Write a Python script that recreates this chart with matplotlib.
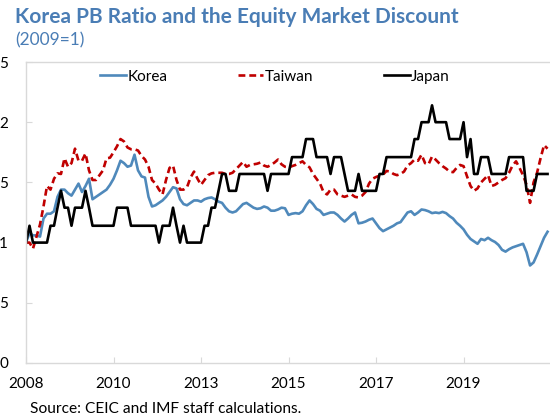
import matplotlib

matplotlib.use("Agg")

import matplotlib.pyplot as plt
import numpy as np

# monthly observations, 2009 = 1
KOREA = [
    1.00, 1.08, 1.06, 1.06, 1.05, 1.20, 1.24, 1.24, 1.26, 1.38,
    1.44, 1.44, 1.41, 1.39, 1.44, 1.49, 1.42, 1.47, 1.53, 1.36,
    1.38, 1.40, 1.42, 1.44, 1.48, 1.53, 1.60, 1.68, 1.66, 1.63,
    1.64, 1.73, 1.60, 1.55, 1.54, 1.38, 1.30, 1.31, 1.33, 1.35,
    1.38, 1.42, 1.46, 1.45, 1.36, 1.32, 1.31, 1.33, 1.35, 1.35,
    1.34, 1.36, 1.37, 1.375, 1.36, 1.34, 1.33, 1.29, 1.26, 1.25,
    1.26, 1.29, 1.32, 1.33, 1.31, 1.29, 1.28, 1.285, 1.30, 1.29,
    1.265, 1.265, 1.275, 1.29, 1.285, 1.23, 1.24, 1.245, 1.24, 1.26,
    1.31, 1.35, 1.32, 1.28, 1.265, 1.23, 1.24, 1.25, 1.25, 1.23,
    1.20, 1.175, 1.20, 1.23, 1.25, 1.16, 1.165, 1.175, 1.19, 1.20,
    1.16, 1.12, 1.095, 1.11, 1.125, 1.14, 1.16, 1.17, 1.21, 1.25,
    1.26, 1.23, 1.25, 1.275, 1.27, 1.26, 1.245, 1.25, 1.245, 1.255,
    1.245, 1.22, 1.20, 1.165, 1.14, 1.11, 1.065, 1.03, 1.01, 0.99,
    1.03, 1.02, 1.04, 1.02, 1.005, 0.98, 0.94, 0.925, 0.945, 0.96,
    0.97, 0.98, 0.99, 0.92, 0.81, 0.835, 0.90, 0.97, 1.04, 1.09,
]
TAIWAN = [
    1.00, 1.00, 0.95, 1.05, 1.15, 1.30, 1.47, 1.44, 1.53, 1.575,
    1.57, 1.70, 1.63, 1.66, 1.78, 1.68, 1.68, 1.74, 1.60, 1.52,
    1.52, 1.56, 1.60, 1.70, 1.705, 1.75, 1.80, 1.86, 1.84, 1.79,
    1.775, 1.775, 1.765, 1.72, 1.69, 1.63, 1.52, 1.49, 1.44, 1.40,
    1.52, 1.62, 1.64, 1.52, 1.44, 1.44, 1.46, 1.54, 1.59, 1.53,
    1.48, 1.52, 1.56, 1.575, 1.58, 1.58, 1.58, 1.57, 1.57, 1.58,
    1.61, 1.64, 1.67, 1.63, 1.645, 1.65, 1.655, 1.665, 1.64, 1.63,
    1.645, 1.665, 1.69, 1.65, 1.63, 1.625, 1.635, 1.645, 1.66, 1.675,
    1.645, 1.625, 1.57, 1.53, 1.49, 1.42, 1.40, 1.44, 1.44, 1.40,
    1.39, 1.38, 1.39, 1.40, 1.38, 1.375, 1.39, 1.42, 1.49, 1.53,
    1.545, 1.555, 1.565, 1.595, 1.59, 1.57, 1.56, 1.57, 1.59, 1.64,
    1.66, 1.69, 1.68, 1.73, 1.66, 1.65, 1.715, 1.69, 1.66, 1.635,
    1.615, 1.59, 1.585, 1.62, 1.645, 1.635, 1.55, 1.47, 1.43, 1.45,
    1.50, 1.53, 1.56, 1.47, 1.48, 1.50, 1.52, 1.535, 1.58, 1.64,
    1.675, 1.62, 1.56, 1.48, 1.33, 1.50, 1.58, 1.70, 1.81, 1.78,
]
JAPAN = [
    1.00, 1.14, 1.00, 1.00, 1.00, 1.00, 1.00, 1.14, 1.14, 1.29,
    1.43, 1.29, 1.29, 1.14, 1.29, 1.29, 1.29, 1.43, 1.29, 1.14,
    1.14, 1.14, 1.14, 1.14, 1.14, 1.14, 1.29, 1.29, 1.29, 1.29,
    1.14, 1.14, 1.14, 1.14, 1.14, 1.14, 1.14, 1.14, 1.00, 1.14,
    1.14, 1.14, 1.29, 1.14, 1.00, 1.14, 1.00, 1.00, 1.00, 1.00,
    1.00, 1.14, 1.14, 1.29, 1.29, 1.43, 1.57, 1.57, 1.43, 1.43,
    1.43, 1.57, 1.57, 1.57, 1.57, 1.57, 1.57, 1.57, 1.57, 1.43,
    1.57, 1.57, 1.57, 1.57, 1.57, 1.57, 1.71, 1.71, 1.71, 1.71,
    1.86, 1.86, 1.86, 1.71, 1.71, 1.71, 1.71, 1.57, 1.71, 1.71,
    1.71, 1.57, 1.43, 1.43, 1.43, 1.57, 1.43, 1.43, 1.43, 1.43,
    1.43, 1.57, 1.57, 1.71, 1.71, 1.71, 1.71, 1.71, 1.71, 1.71,
    1.71, 1.86, 1.86, 2.00, 2.00, 2.00, 2.14, 2.00, 2.00, 2.00,
    2.00, 1.86, 1.86, 1.86, 1.86, 2.00, 1.71, 1.86, 1.57, 1.57,
    1.71, 1.71, 1.71, 1.57, 1.57, 1.57, 1.57, 1.57, 1.71, 1.71,
    1.71, 1.71, 1.71, 1.43, 1.43, 1.43, 1.57, 1.57, 1.57, 1.57,
]
TICK_POSITIONS = [0, 25, 50, 75, 100, 125]
TICK_LABELS = ["2008", "2010", "2013", "2015", "2017", "2019"]
Y_TICKS = [0, 0.5, 1, 1.5, 2, 2.5]
# only the last character of each y label is visible in the source image
Y_LABELS = ["0", "5", "1", "5", "2", "5"]

TITLE_BLUE = "#4a7db5"
GRID_GREY = "#d9d9d9"

plt.rcParams["font.family"] = ["Lato", "DejaVu Sans"]

fig = plt.figure(figsize=(5.5, 4.2), dpi=100)
ax = fig.add_axes([26 / 550, 57 / 420, 524 / 550, 301 / 420])

x = np.arange(len(KOREA))
ax.plot(x, KOREA, color="#4f89bb", lw=1.9, label="Korea")
ax.plot(x, TAIWAN, color="#c00000", lw=1.9, ls=(0, (2.6, 1.5)), label="Taiwan")
ax.plot(x, JAPAN, color="black", lw=1.9, label="Japan")

ax.set_xlim(0, 149.7)
ax.set_ylim(0, 2.5)
ax.set_xticks(TICK_POSITIONS)
ax.set_xticklabels(TICK_LABELS)
ax.set_yticks(Y_TICKS)
ax.set_yticklabels(Y_LABELS)
ax.tick_params(axis="both", direction="in", length=4, color=GRID_GREY,
               labelsize=11, labelcolor="black")
ax.tick_params(axis="y", pad=13)
ax.tick_params(axis="x", pad=10)

for side in ("top", "left", "bottom"):
    ax.spines[side].set_color(GRID_GREY)
    ax.spines[side].set_linewidth(1.0)
ax.spines["right"].set_visible(False)

ax.legend(loc="upper center", bbox_to_anchor=(0.475, 1.02), ncol=3, frameon=False,
          fontsize=11, handlelength=1.7, handletextpad=0.1, columnspacing=4.6)

fig.text(15 / 550, 1 - 17 / 420, "Korea PB Ratio and the Equity Market Discount",
         color=TITLE_BLUE, fontsize=15, fontweight="bold", va="center", ha="left")
fig.text(15 / 550, 1 - 40 / 420, "(2009=1)", color=TITLE_BLUE, fontsize=12.5,
         va="center", ha="left")
fig.text(30 / 550, 1 - 409 / 420, "Source: CEIC and IMF staff calculations.",
         fontsize=11.2, va="center", ha="left")

fig.savefig("out.png", dpi=100)
